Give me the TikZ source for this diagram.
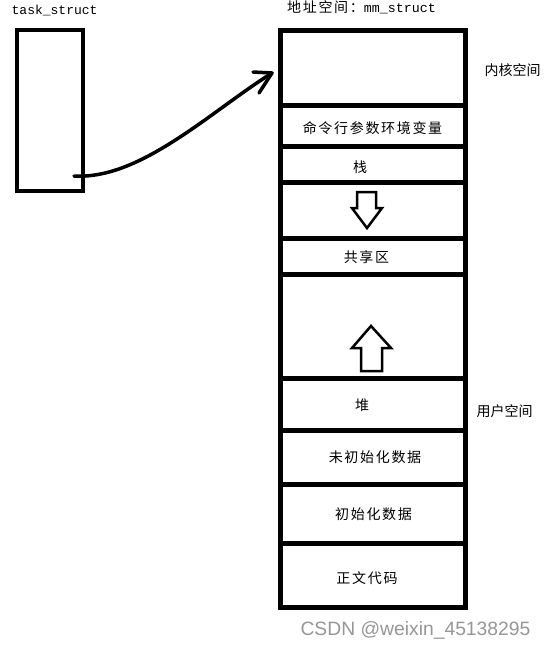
\documentclass[tikz,border=0pt]{standalone}
\usepackage{fontspec}
\newfontfamily\cjk{Noto Sans CJK SC}
\newfontfamily\cjksp[LetterSpace=12]{Noto Sans CJK SC}
\newfontfamily\mono{Liberation Mono}
\newfontfamily\wm{Liberation Sans}
\begin{document}
\begin{tikzpicture}[x=1pt,y=-1pt,
  sec/.style={draw, line width=5pt, minimum width=185pt, inner sep=0pt},
  lab/.style={inner sep=0pt, font=\cjksp\fontsize{14}{16}\selectfont},
  side/.style={inner sep=0pt, font=\cjk\fontsize{14}{16}\selectfont},
  blockarrow/.style={draw, line width=2.5pt, line join=miter},
  hand/.style={line width=3.5pt, line cap=round, line join=round}]
\useasboundingbox (0,0) rectangle (547,649);
% titles
\node[inner sep=0pt, anchor=west, font=\mono\fontsize{13}{15}\selectfont] (ttask) at (11.5,10) {task\_struct};
\node[inner sep=0pt, anchor=west] (tmm) at (287,7) {{\cjksp\fontsize{14}{16}\selectfont 地址空间：}{\mono\fontsize{13.3}{15}\selectfont mm\_struct}};
% task_struct box
\node[draw, line width=4pt, minimum width=66pt, minimum height=161pt, inner sep=0pt] (task) at (50,110.5) {};
% address space column
\node[sec, minimum height=75pt]   (kern)  at (372.5,67.5) {};
\node[sec, minimum height=41pt]   (args)  at (372.5,125.5) {};
\node[sec, minimum height=36pt]   (stack) at (372.5,164) {};
\node[sec, minimum height=56.5pt] (gapa)  at (372.5,210.25) {};
\node[sec, minimum height=36pt]   (shm)   at (372.5,256.5) {};
\node[sec, minimum height=104pt]  (gapb)  at (372.5,326.5) {};
\node[sec, minimum height=52pt]   (heap)  at (372.5,404.5) {};
\node[sec, minimum height=54pt]   (bss)   at (372.5,457.5) {};
\node[sec, minimum height=59pt]   (data)  at (372.5,514) {};
\node[sec, minimum height=64pt]   (code)  at (372.5,575.5) {};
% labels
\node[lab] (largs)  at (372.5,128) {命令行参数环境变量};
\node[lab] (lstack) at (360,167) {栈};
\node[lab] (lshm)   at (366.5,257) {共享区};
\node[lab] (lheap)  at (362,405) {堆};
\node[lab] (lbss)   at (375,457) {未初始化数据};
\node[lab] (ldata)  at (373.5,514) {初始化数据};
\node[lab] (lcode)  at (367,578) {正文代码};
\node[side] (lkern) at (512.5,70) {内核空间};
\node[side] (luser) at (504.5,411) {用户空间};
% block arrows
\draw[blockarrow] (357,192) -- (376,192) -- (376,208) -- (382,208) -- (367,228) -- (352,208) -- (357,208) -- cycle;
\draw[blockarrow] (361,371) -- (382,371) -- (382,348) -- (391,348) -- (371,326) -- (352,348) -- (361,348) -- cycle;
% hand-drawn connector
\coordinate (cs) at (74,176);
\coordinate (tip) at (272,73);
\coordinate (ha) at (253,72);
\coordinate (hb) at (259,93);
\draw[hand] (cs) .. controls (140,180) and (210,112) .. (tip);
\draw[hand] (ha) -- (tip) -- (hb);
% watermark
\node[inner sep=0pt, text={rgb,255:red,150;green,150;blue,150}, font=\wm\fontsize{19.3}{21}\selectfont] (wmark) at (415.5,630) {CSDN @weixin\_45138295};
\end{tikzpicture}
\end{document}
